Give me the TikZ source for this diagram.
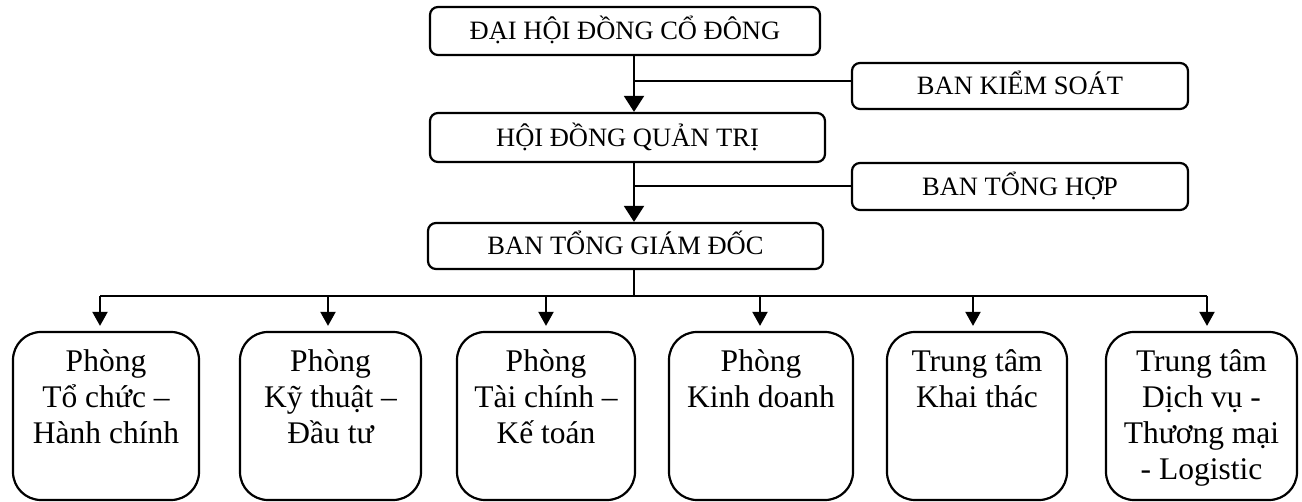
\documentclass[tikz,border=0pt]{standalone}
\usepackage{fontspec}
\setmainfont{Liberation Serif}
\usetikzlibrary{arrows.meta}
\newcommand\mkunit[2]{\parbox[t][168pt][t]{#1}{\centering\fontsize{31.5}{36}\selectfont\rule{0pt}{40pt}#2}}
\begin{document}
\begin{tikzpicture}[x=1pt,y=-1pt,
  topbox/.style={draw, line width=2.2pt, rounded corners=8pt, inner sep=0pt,
    font=\fontsize{26.5}{30}\selectfont, text height=17.5pt, text depth=0pt},
  unitbox/.style={draw, line width=2.2pt, rounded corners=28pt, inner sep=0pt, minimum height=168pt},
  link/.style={line width=2pt},
  bigarr/.style={link, -{Triangle[length=16pt,width=20pt]}},
  smallarr/.style={link, -{Triangle[length=14pt,width=15pt]}, shorten >=5pt}]
\useasboundingbox (0,0) rectangle (1302,502);

% top boxes
\node[topbox, minimum width=390pt, minimum height=48pt] (dhd) at (625,31) {ĐẠI HỘI ĐỒNG CỔ ĐÔNG};
\node[topbox, minimum width=336pt, minimum height=46pt] (bks) at (1020,86) {BAN KIỂM SOÁT};
\node[topbox, minimum width=395pt, minimum height=49pt] (hdqt) at (627.5,137.5) {HỘI ĐỒNG QUẢN TRỊ};
\node[topbox, minimum width=336pt, minimum height=47pt] (bth) at (1020,186.5) {BAN TỔNG HỢP};
\node[topbox, minimum width=395pt, minimum height=46pt] (btgd) at (625.5,246) {BAN TỔNG GIÁM ĐỐC};

% units
\node[unitbox, minimum width=186pt] (u1) at (106,416) {\mkunit{176pt}{Phòng\\Tổ chức –\\Hành chính}};
\node[unitbox, minimum width=181pt] (u2) at (330.5,416) {\mkunit{171pt}{Phòng\\Kỹ thuật –\\Đầu tư}};
\node[unitbox, minimum width=178pt] (u3) at (546,416) {\mkunit{168pt}{Phòng\\Tài chính –\\Kế toán}};
\node[unitbox, minimum width=184pt] (u4) at (761,416) {\mkunit{174pt}{Phòng\\Kinh doanh}};
\node[unitbox, minimum width=180pt] (u5) at (977,416) {\mkunit{170pt}{Trung tâm\\Khai thác}};
\node[unitbox, minimum width=191pt] (u6) at (1201.5,416) {\mkunit{181pt}{Trung tâm\\Dịch vụ -\\Thương mại\\- Logistic}};

% connectors
\coordinate (spine) at (634,0);
\coordinate (k1) at (634,81);
\coordinate (k2) at (634,186);
\coordinate (bar) at (634,296);
\coordinate (a1) at (100,296);
\coordinate (a2) at (328,296);
\coordinate (a3) at (546,296);
\coordinate (a4) at (760,296);
\coordinate (a5) at (973,296);
\coordinate (a6) at (1207,296);

\draw[bigarr] (dhd.south -| spine) -- (hdqt.north -| spine);
\draw[link] (k1) -- (bks.west |- k1);
\draw[bigarr] (hdqt.south -| spine) -- (btgd.north -| spine);
\draw[link] (k2) -- (bth.west |- k2);
\draw[link] (btgd.south -| spine) -- (bar);
\draw[link] (a1) -- (a6);
\draw[smallarr] (a1) -- (a1 |- u1.north);
\draw[smallarr] (a2) -- (a2 |- u2.north);
\draw[smallarr] (a3) -- (a3 |- u3.north);
\draw[smallarr] (a4) -- (a4 |- u4.north);
\draw[smallarr] (a5) -- (a5 |- u5.north);
\draw[smallarr] (a6) -- (a6 |- u6.north);
\end{tikzpicture}
\end{document}
